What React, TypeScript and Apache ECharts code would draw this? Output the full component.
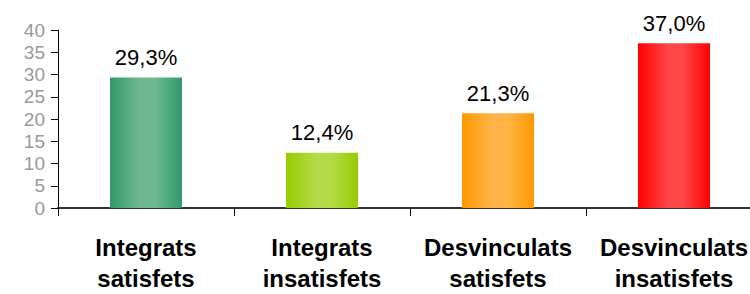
import React, { useEffect, useRef } from "react";
import * as echarts from "echarts";

const categories = [
  "Integrats\nsatisfets",
  "Integrats\ninsatisfets",
  "Desvinculats\nsatisfets",
  "Desvinculats\ninsatisfets",
];
const values = [29.3, 12.4, 21.3, 37.0];
const edgeColors = ["#33996a", "#99cc00", "#ff9900", "#ff0000"];
const centerColors = ["#6fb991", "#b3db48", "#ffb447", "#ff4848"];
const yTicks = { min: 0, max: 40, interval: 5 };

export default function App() {
  const ref = useRef<HTMLDivElement>(null);
  useEffect(() => {
    document.body.style.margin = "0";
    const chart = echarts.init(ref.current!, null, { renderer: "svg" });
    const font = "'Liberation Sans', Arial, sans-serif";
    chart.setOption({
      animation: false,
      grid: { left: 58, top: 30, bottom: 82, right: 0 },
      xAxis: {
        type: "category",
        data: categories,
        axisLine: { lineStyle: { color: "#333", width: 2 } },
        axisTick: { show: true, length: 8, lineStyle: { color: "#111", width: 1 } },
        axisLabel: {
          interval: 0,
          margin: 24,
          color: "#000",
          fontFamily: font,
          fontWeight: "bold",
          fontSize: 24,
          lineHeight: 31,
        },
      },
      yAxis: {
        type: "value",
        min: yTicks.min,
        max: yTicks.max,
        interval: yTicks.interval,
        splitLine: { show: false },
        axisLine: { show: true, lineStyle: { color: "#000", width: 1 } },
        axisTick: { show: true, length: 7, lineStyle: { color: "#000" } },
        axisLabel: { color: "#999", fontFamily: font, fontSize: 19, margin: 13 },
      },
      series: [
        {
          type: "bar",
          barWidth: 72,
          data: values.map((v, i) => ({
            value: v,
            itemStyle: {
              color: new echarts.graphic.LinearGradient(0, 0, 1, 0, [
                { offset: 0, color: edgeColors[i] },
                { offset: 0.42, color: centerColors[i] },
                { offset: 0.62, color: centerColors[i] },
                { offset: 1, color: edgeColors[i] },
              ]),
            },
          })),
          label: {
            show: true,
            position: "top",
            distance: 9,
            color: "#000",
            fontFamily: font,
            fontSize: 22,
            formatter: (p: any) => p.value.toFixed(1).replace(".", ",") + "%",
          },
        },
      ],
    });
    return () => chart.dispose();
  }, []);
  return (
    <div style={{ width: 750, height: 294, overflow: "hidden", position: "relative" }}>
      <div ref={ref} style={{ width: 762, height: 294 }} />
    </div>
  );
}
